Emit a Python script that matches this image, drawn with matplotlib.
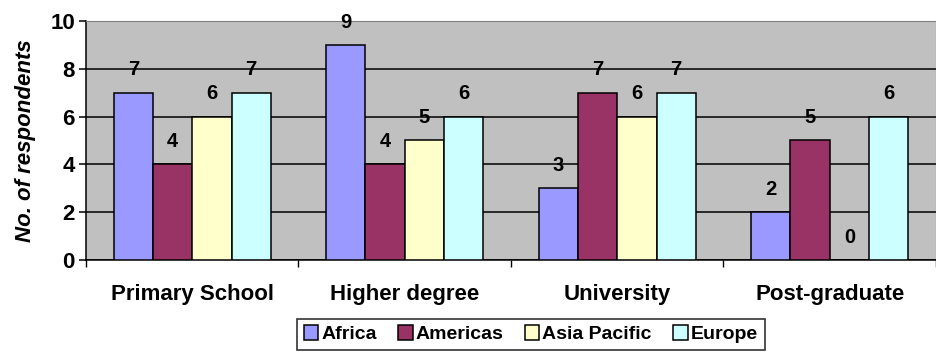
import numpy as np
import matplotlib.pyplot as plt

plt.rcParams['font.family'] = ['Liberation Sans', 'DejaVu Sans']

categories = ['Primary School', 'Higher degree', 'University', 'Post-graduate']
regions = ['Africa', 'Americas', 'Asia Pacific', 'Europe']
africa = [7, 9, 3, 2]
americas = [4, 4, 7, 5]
asia_pacific = [6, 5, 6, 0]
europe = [7, 6, 7, 6]
colors = ['#9999FF', '#993366', '#FFFFCC', '#CCFFFF']

series = [africa, americas, asia_pacific, europe]

fig = plt.figure(figsize=(9.36, 3.52), dpi=100)
ax = fig.add_axes([0.0919, 0.2614, 0.908, 0.679])
ax.set_facecolor('#C0C0C0')

x = np.arange(len(categories))
w = 0.185
for i, (vals, name, c) in enumerate(zip(series, regions, colors)):
    pos = x + (i - 1.5) * w
    ax.bar(pos, vals, w, color=c, edgecolor='black', linewidth=1.1, label=name, zorder=3)
    for p, v in zip(pos, vals):
        ax.text(p, v + 0.95, str(v), ha='center', va='center',
                fontsize=14.5, fontweight='bold', zorder=4)

ax.set_xlim(-0.5, len(categories) - 0.5)
ax.set_ylim(0, 10)
ax.set_yticks(range(0, 11, 2))
ax.yaxis.grid(True, color='black', linewidth=1.1, zorder=0)
ax.set_axisbelow(True)

# ticks at category borders, labels at centres
ax.set_xticks(np.arange(-0.5, len(categories), 1.0))
ax.set_xticklabels([])
ax.set_xticks(x, minor=True)
ax.set_xticklabels(categories, minor=True, fontsize=16, fontweight='bold')
ax.tick_params(axis='x', which='minor', length=0, pad=17)
ax.tick_params(axis='x', which='major', length=5, width=1, color='black')
ax.tick_params(axis='y', length=5, width=1.1, pad=3, labelsize=16)
for t in ax.get_yticklabels():
    t.set_fontweight('bold')

ax.spines['left'].set_color('black')
ax.spines['left'].set_linewidth(1.1)
ax.spines['bottom'].set_color('black')
ax.spines['bottom'].set_linewidth(1.1)
ax.spines['top'].set_color('#808080')
ax.spines['right'].set_color('#808080')

ax.set_ylabel('No. of respondents', fontsize=16, fontweight='bold', fontstyle='italic', labelpad=10)

leg = fig.legend(loc='center', bbox_to_anchor=(0.567, 0.05), ncol=4,
                 prop={'weight': 'bold', 'size': 14}, frameon=True, fancybox=False,
                 handlelength=0.75, handleheight=0.75, handletextpad=0.15, columnspacing=1.1,
                 borderpad=0.35, borderaxespad=0)
leg.get_frame().set_edgecolor('black')
leg.get_frame().set_linewidth(1.2)

plt.savefig('out.png', dpi=100)
